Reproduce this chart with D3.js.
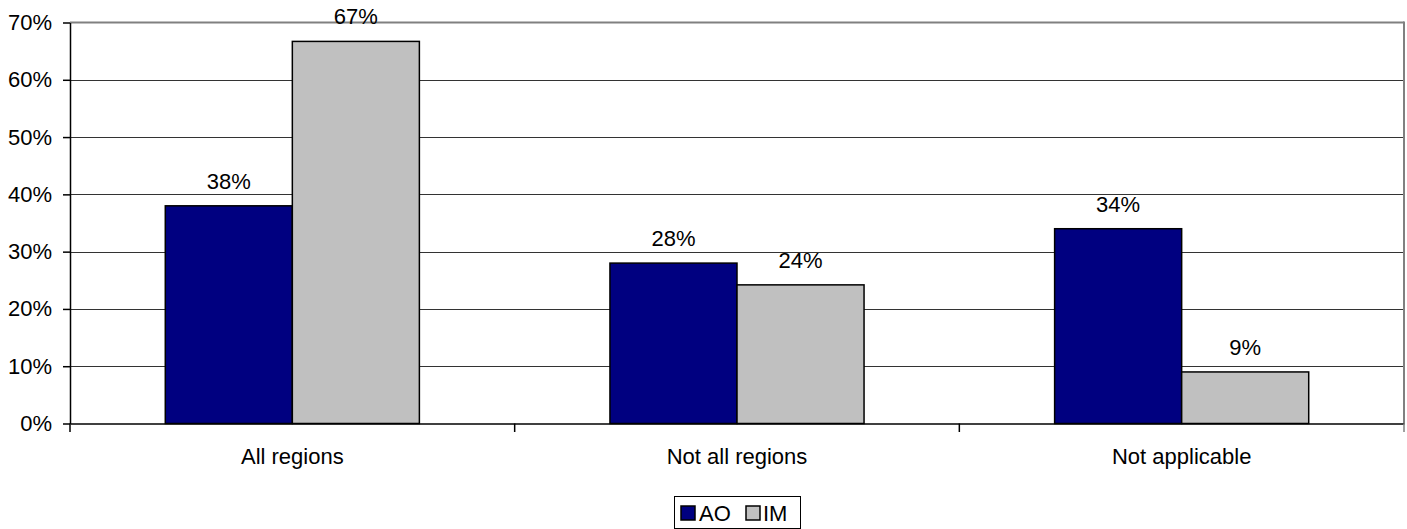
<!DOCTYPE html>
<html>
<head>
<meta charset="utf-8">
<script src="https://cdn.jsdelivr.net/npm/d3@7"></script>
<style>
  html, body { margin: 0; padding: 0; background: #fff; }
  svg { display: block; }
  text { font-family: "Liberation Sans", Arial, sans-serif; fill: #000; }
</style>
</head>
<body>
<svg id="chart" width="1407" height="529"></svg>
<script>
const categories = ["All regions", "Not all regions", "Not applicable"];
const seriesNames = ["AO", "IM"];
const aoValues = [0.38, 0.28, 0.34];
const imValues = [0.667, 0.242, 0.09];
const yTicks = [0, 0.1, 0.2, 0.3, 0.4, 0.5, 0.6, 0.7];
const colors = { AO: "#000080", IM: "#C0C0C0" };

(function () {
const data = categories.map((c, i) => ({ category: c, AO: aoValues[i], IM: imValues[i] }));

const svg = d3.select("#chart");
const pLeft = 70, pRight = 1404, pTop = 22.5, pBottom = 423.5;
const fs = 22;

const y = d3.scaleLinear().domain([0, 0.7]).range([pBottom, pTop]);
const x = d3.scaleBand().domain(categories).range([pLeft, pRight]).paddingInner(0).paddingOuter(0);
const bw = x.bandwidth() / 3.5;
const x1 = d3.scaleBand().domain(seriesNames).range([(x.bandwidth() - 2 * bw) / 2, (x.bandwidth() + 2 * bw) / 2]);

// gridlines
svg.append("g").selectAll("line").data(yTicks.filter(t => t > 0 && t < 0.7)).join("line")
  .attr("x1", pLeft).attr("x2", pRight)
  .attr("y1", d => Math.round(y(d)) + 0.5).attr("y2", d => Math.round(y(d)) + 0.5)
  .attr("stroke", "#333").attr("stroke-width", 1);

// plot border top and right (gray)
svg.append("line").attr("x1", pLeft).attr("x2", pRight).attr("y1", pTop).attr("y2", pTop)
  .attr("stroke", "#808080").attr("stroke-width", 2);
svg.append("line").attr("x1", pRight).attr("x2", pRight).attr("y1", pTop - 1).attr("y2", pBottom)
  .attr("stroke", "#808080").attr("stroke-width", 2);

// bars
const groups = svg.append("g").selectAll("g").data(data).join("g")
  .attr("transform", d => `translate(${x(d.category)},0)`);
groups.selectAll("rect").data(d => seriesNames.map(s => ({ s, v: d[s] }))).join("rect")
  .attr("x", d => x1(d.s))
  .attr("width", x1.bandwidth())
  .attr("y", d => y(d.v))
  .attr("height", d => pBottom - y(d.v))
  .attr("fill", d => colors[d.s])
  .attr("stroke", "#000").attr("stroke-width", 1.5);

// value labels
groups.selectAll("text").data(d => seriesNames.map(s => ({ s, v: d[s] }))).join("text")
  .attr("x", d => x1(d.s) + x1.bandwidth() / 2)
  .attr("y", d => y(d.v) - 17)
  .attr("text-anchor", "middle")
  .attr("font-size", fs)
  .text(d => Math.round(d.v * 100) + "%");

// y axis
const yAxis = d3.axisLeft(y).tickValues(yTicks).tickFormat(d3.format(".0%"))
  .tickSize(7).tickSizeOuter(0).tickPadding(11);
const ya = svg.append("g").attr("transform", `translate(${pLeft},0)`).call(yAxis);
ya.select(".domain").attr("stroke", "#000").attr("stroke-width", 1.5);
ya.selectAll(".tick line").attr("stroke", "#000").attr("stroke-width", 1.5);
ya.selectAll(".tick text").attr("font-size", fs).attr("font-family", "Liberation Sans, Arial, sans-serif").attr("fill", "#000");

// x axis
const xAxis = d3.axisBottom(x).tickSize(0).tickSizeOuter(0).tickPadding(0);
const xa = svg.append("g").attr("transform", `translate(0,${pBottom})`).call(xAxis);
xa.select(".domain").attr("stroke", "#000").attr("stroke-width", 1.5);
xa.selectAll(".tick text").attr("font-size", fs).attr("font-family", "Liberation Sans, Arial, sans-serif")
  .attr("fill", "#000").attr("dy", null).attr("y", 464 - pBottom);
// category boundary ticks
svg.append("g").selectAll("line").data(d3.range(categories.length + 1)).join("line")
  .attr("x1", i => pLeft + i * x.step()).attr("x2", i => pLeft + i * x.step())
  .attr("y1", pBottom).attr("y2", pBottom + 8.5)
  .attr("stroke", i => i === categories.length ? "#808080" : "#000")
  .attr("stroke-width", 1.5);

// legend
const lg = svg.append("g");
lg.append("rect").attr("x", 674.5).attr("y", 496.5).attr("width", 126).attr("height", 32)
  .attr("fill", "#fff").attr("stroke", "#000").attr("stroke-width", 1);
const items = [{ s: "AO", sx: 681, tx: 699 }, { s: "IM", sx: 746, tx: 763 }];
items.forEach(it => {
  lg.append("rect").attr("x", it.sx).attr("y", 506).attr("width", 14).attr("height", 14)
    .attr("fill", colors[it.s]).attr("stroke", "#000").attr("stroke-width", 1.5);
  lg.append("text").attr("x", it.tx).attr("y", 521).attr("font-size", fs).text(it.s);
});
})();
</script>
</body>
</html>
